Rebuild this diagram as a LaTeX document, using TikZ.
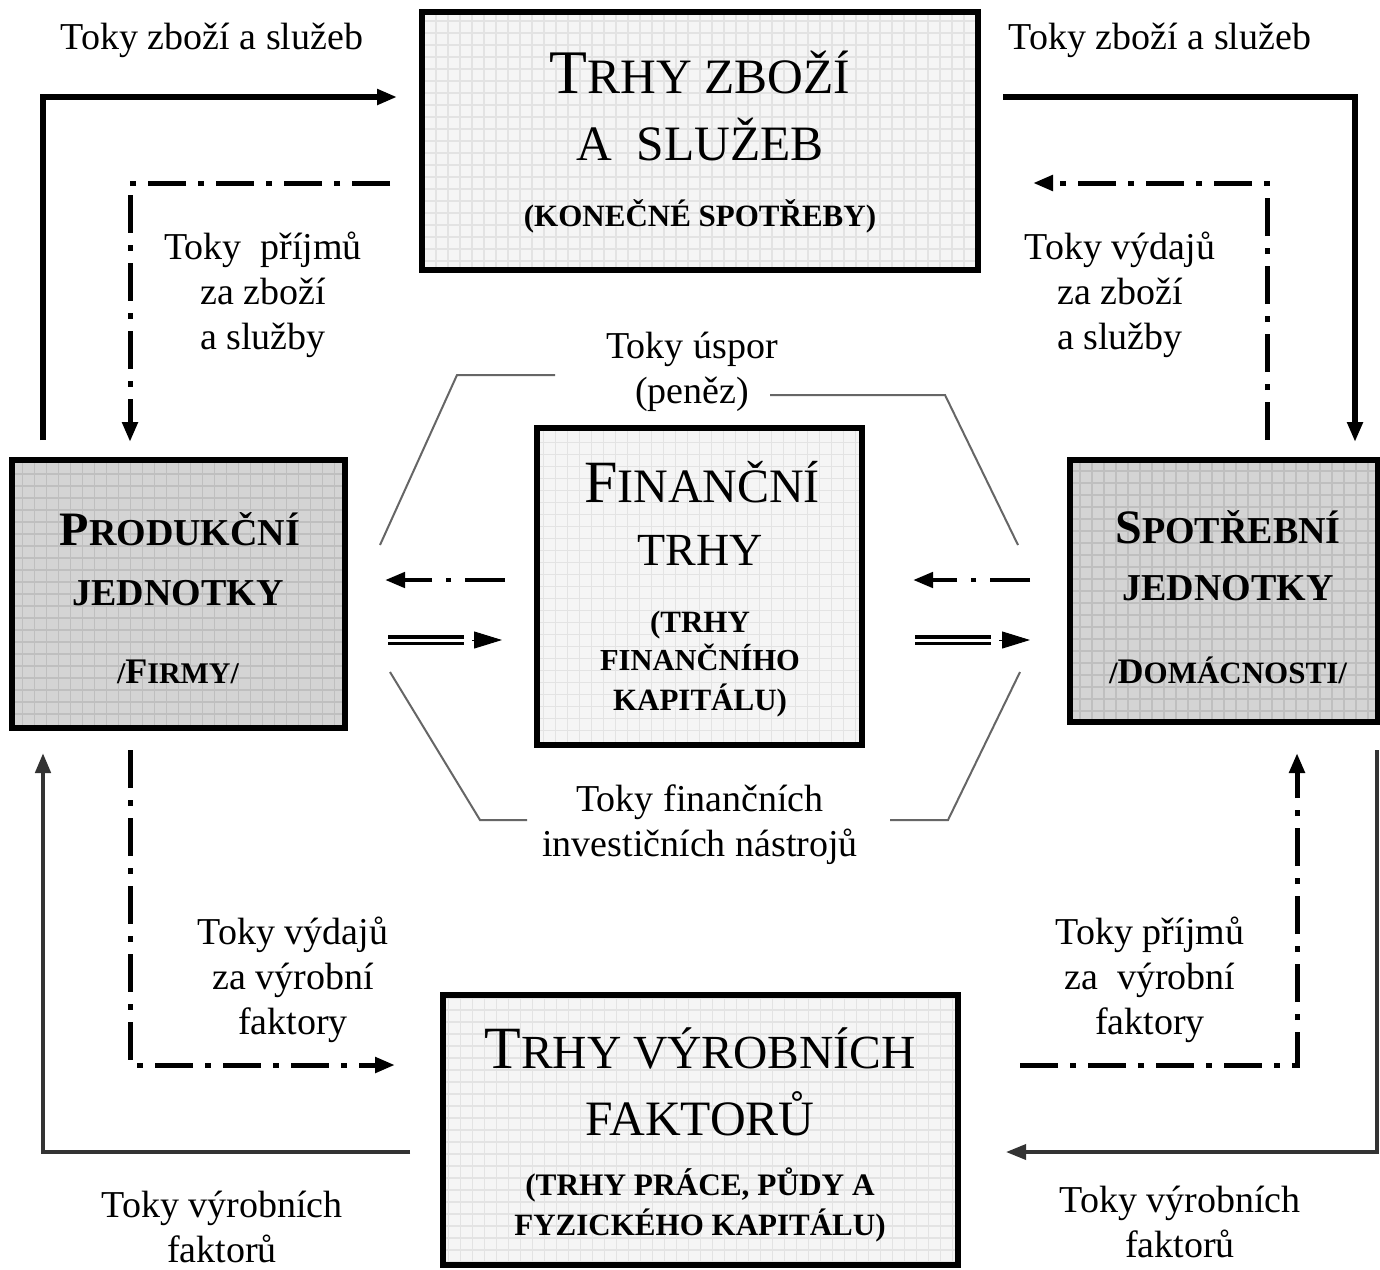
\documentclass[tikz,border=0pt]{standalone}
\usepackage{fontspec}
\setmainfont{Liberation Serif}
\usetikzlibrary{arrows.meta}
\newcommand\fsz[1]{\fontsize{#1}{#1}\selectfont}
\newcommand\fszb[1]{\fontsize{#1}{#1}\selectfont\bfseries}
\begin{document}
\begin{tikzpicture}[x=1pt,y=-1pt,
  mktbox/.style n args={2}{draw=black,line width=6pt,fill=#1,inner sep=0pt,
    path picture={\draw[#2,line width=1.2pt,step=12pt]
      (path picture bounding box.south west) grid (path picture bounding box.north east);}},
  lightbox/.style={mktbox={gray!8}{gray!22}},
  darkbox/.style={mktbox={gray!34}{gray!50}},
  boxtext/.style={anchor=base,inner sep=0pt},
  lbl/.style={align=center,inner sep=0pt,font=\fontsize{38}{45}\selectfont},
  headtip/.style={-{Triangle[length=20pt,width=15pt]}},
  thicksolid/.style={headtip,line width=6pt},
  thinsolid/.style={headtip,line width=4.5pt,draw=black!80},
  dashdot/.style={headtip,line width=5pt,dash pattern=on 38pt off 12pt on 6pt off 12pt},
  hexline/.style={line width=2pt,draw=black!60},
  dbl/.style={line width=3.5pt,double distance=3pt,double=white},
]
\useasboundingbox (0,0) rectangle (1380,1269);
\fill[white] (0,0) rectangle (1380,1269);

% boxes
\node[lightbox,minimum width=556pt,minimum height=258pt] (G) at (700,141) {};
\node[darkbox,minimum width=333pt,minimum height=268pt] (P) at (178.5,594) {};
\node[darkbox,minimum width=308pt,minimum height=262pt] (H) at (1224,591) {};
\node[lightbox,minimum width=325pt,minimum height=317pt] (F) at (699.5,586.5) {};
\node[lightbox,minimum width=515pt,minimum height=270pt] (R) at (700.5,1130) {};

% box texts
\node[boxtext] (G1) at (700,93) {\fsz{62}T\fsz{49.5}RHY ZBOŽÍ};
\node[boxtext] (G2) at (700,160) {\fsz{49.5}A\ \ SLUŽEB};
\node[boxtext] (G3) at (700,226) {\fszb{31}(KONEČNÉ SPOTŘEBY)};

\node[boxtext] (P1) at (180,545) {\fszb{48}P\fszb{38}RODUKČNÍ};
\node[boxtext] (P2) at (178,605) {\fszb{38}JEDNOTKY};
\node[boxtext] (P3) at (178,683) {\fszb{30}/\fszb{36}F\fszb{30}IRMY/};

\node[boxtext] (H1) at (1228,543) {\fszb{48}S\fszb{38}POTŘEBNÍ};
\node[boxtext] (H2) at (1228,600) {\fszb{38}JEDNOTKY};
\node[boxtext] (H3) at (1228,683) {\fszb{31}/\fszb{36}D\fszb{31}OMÁCNOSTI/};

\node[boxtext] (F1) at (702,502) {\fsz{60}F\fsz{48}INANČNÍ};
\node[boxtext] (F2) at (700,565) {\fsz{46}TRHY};
\node[boxtext] (F3) at (700,632) {\fszb{31}(TRHY};
\node[boxtext] (F4) at (700,670) {\fszb{30.5}FINANČNÍHO};
\node[boxtext] (F5) at (700,710) {\fszb{31}KAPITÁLU)};

\node[boxtext] (R1) at (700,1068) {\fsz{60}T\fsz{47.5}RHY VÝROBNÍCH};
\node[boxtext] (R2) at (700,1135) {\fsz{49.5}FAKTORŮ};
\node[boxtext] (R3) at (700,1195) {\fszb{31.3}(TRHY PRÁCE, PŮDY A};
\node[boxtext] (R4) at (700,1235) {\fszb{31}FYZICKÉHO KAPITÁLU)};

% labels
\node[lbl] (L1) at (212,40) {Toky zboží a služeb};
\node[lbl] (L2) at (1160,40) {Toky zboží a služeb};
\node[lbl] (L3) at (263,295) {Toky\ \ příjmů\\za zboží\\a služby};
\node[lbl] (L4) at (1120,295) {Toky výdajů\\za zboží\\a služby};
\node[lbl] (L5) at (692,372) {Toky úspor\\(peněz)};
\node[lbl] (L6) at (700,825) {Toky finančních\\investičních nástrojů};
\node[lbl] (L7) at (293,980) {Toky výdajů\\za výrobní\\faktory};
\node[lbl] (L8) at (1150,980) {Toky příjmů\\za\ \ výrobní\\faktory};
\node[lbl] (L9) at (222,1227) {Toky výrobních\\faktorů};
\node[lbl] (L10) at (1180,1222) {Toky výrobních\\faktorů};

% connector end points
\coordinate (a1) at (43,440);   \coordinate (a2) at (397,97);
\coordinate (b1) at (390,183);  \coordinate (b2) at (130,442);
\coordinate (c1) at (1003,97);  \coordinate (c2) at (1355,442);
\coordinate (d1) at (1267,440); \coordinate (d2) at (1033,183);
\coordinate (e1) at (410,1152); \coordinate (e2) at (43,753);
\coordinate (f1) at (130,750);  \coordinate (f2) at (395,1065);
\coordinate (g1) at (1377,750); \coordinate (g2) at (1006,1152);
\coordinate (h1) at (1020,1065);\coordinate (h2) at (1297,753);

% outer circuit
\draw[thicksolid] (a1) |- (a2);
\draw[dashdot] (b1) -| (b2);
\draw[thicksolid] (c1) -| (c2);
\draw[dashdot] (d1) |- (d2);
\draw[thinsolid] (e1) -| (e2);
\draw[dashdot] (f1) |- (f2);
\draw[thinsolid,line width=3.5pt] (g1) |- (g2);
\draw[dashdot] (h1) -| (h2);

% financial flows
\coordinate (m1) at (505,580); \coordinate (m2) at (385,580);
\coordinate (n1) at (388,640); \coordinate (n2) at (472,640); \coordinate (n3) at (502,640);
\coordinate (o1) at (1030,580); \coordinate (o2) at (913,580);
\coordinate (p1) at (915,640); \coordinate (p2) at (999,640); \coordinate (p3) at (1030,640);
\draw[dashdot,line width=4.5pt,dash pattern=on 40pt off 14pt on 5pt off 14pt] (m1) -- (m2);
\draw[dashdot,line width=4.5pt,dash pattern=on 40pt off 14pt on 5pt off 14pt] (o1) -- (o2);
\draw[dbl] (n1) -- ([xshift=-8pt]n2);
\draw[-{Triangle[length=28pt,width=17pt]},line width=1pt] (n2) -- (n3);
\draw[dbl] (p1) -- ([xshift=-8pt]p2);
\draw[-{Triangle[length=28pt,width=17pt]},line width=1pt] (p2) -- (p3);

% hexagon-like brackets
\draw[hexline] (555,375) -- (457,375) -- (380,545);
\draw[hexline] (770,395) -- (945,395) -- (1018,545);
\draw[hexline] (390,672) -- (480,820) -- (527,820);
\draw[hexline] (1020,672) -- (948,820) -- (890,820);
\end{tikzpicture}
\end{document}
